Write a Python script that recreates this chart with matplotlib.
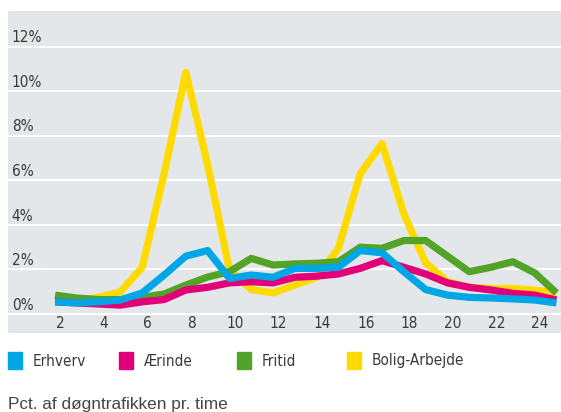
import numpy as np
import matplotlib
matplotlib.use("Agg")
import matplotlib.pyplot as plt
from matplotlib.patches import Rectangle

# timer i døgnet
hours = np.arange(1, 25)
tick_hours = [2, 4, 6, 8, 10, 12, 14, 16, 18, 20, 22, 24]
y_ticks = [0, 2, 4, 6, 8, 10, 12]

erhverv = [0.55, 0.5, 0.55, 0.63, 0.95, 1.75, 2.6, 2.85, 1.6, 1.75, 1.65, 2.05,
           2.05, 2.1, 2.85, 2.75, 1.9, 1.1, 0.85, 0.75, 0.72, 0.68, 0.63, 0.5]
aerinde = [0.55, 0.5, 0.45, 0.4, 0.55, 0.65, 1.08, 1.2, 1.4, 1.45, 1.4, 1.65,
           1.7, 1.8, 2.05, 2.4, 2.1, 1.8, 1.4, 1.2, 1.08, 0.93, 0.85, 0.63]
fritid = [0.85, 0.72, 0.65, 0.65, 0.75, 0.9, 1.3, 1.66, 1.9, 2.5, 2.2, 2.25,
          2.28, 2.35, 3.0, 2.95, 3.3, 3.3, 2.6, 1.9, 2.1, 2.35, 1.85, 0.95]
bolig = [0.55, 0.6, 0.75, 1.0, 2.1, 6.3, 10.85, 6.7, 2.0, 1.1, 0.95, 1.3,
         1.65, 2.95, 6.3, 7.65, 4.5, 2.3, 1.45, 1.2, 1.15, 1.15, 1.07, 0.95]

names = ["Erhverv", "Ærinde", "Fritid", "Bolig-Arbejde"]
colors = ["#00A6E6", "#E2007A", "#52A428", "#FFDA00"]

txt_col = "#3a3a3a"
cond = dict(family="DejaVu Sans", stretch="condensed")

fig = plt.figure(figsize=(5.61, 4.12), dpi=100)
ax = fig.add_axes([8 / 561, 79 / 412, 553 / 561, 322 / 412])
ax.set_facecolor("#E4E7EA")

# tegn bagfra: gul, grøn, pink, blå
series = [erhverv, aerinde, fritid, bolig]
for z, idx in enumerate([3, 2, 1, 0]):
    ax.plot(hours, series[idx], color=colors[idx], lw=5.2, zorder=3 + z,
            solid_joinstyle="round", solid_capstyle="butt")

ax.set_xlim(-1.16, 24.21)
ax.set_ylim(-0.85, 13.6)
ax.set_xticks([])
ax.set_yticks(y_ticks)
ax.set_yticklabels([])
ax.tick_params(length=0)
ax.grid(axis="y", color="white", lw=1.4, zorder=1)
for s in ax.spines.values():
    s.set_visible(False)

for v in y_ticks:
    ax.text(0.007, v + 0.06, f"{v}%", transform=ax.get_yaxis_transform(),
            ha="left", va="bottom", fontsize=11, color=txt_col, **cond)
for h in tick_hours:
    ax.text(h - 0.75, -0.42, str(h), ha="center", va="center",
            fontsize=11, color=txt_col, **cond)

# forklaring
leg_x = [8, 119, 237, 347]
for name, col, x in zip(names, colors, leg_x):
    fig.patches.append(Rectangle((x / 561, (412 - 369) / 412), 14 / 561, 17 / 412,
                                 transform=fig.transFigure, color=col))
    fig.text((x + 25) / 561, (412 - 361) / 412, name, ha="left", va="center",
             fontsize=11, color=txt_col, **cond)

fig.text(8 / 561, (412 - 404) / 412, "Pct. af døgntrafikken pr. time",
         ha="left", va="center", fontsize=12.4, color="#444444",
         family=["Liberation Sans", "DejaVu Sans"])

fig.savefig("out.png", dpi=100)
